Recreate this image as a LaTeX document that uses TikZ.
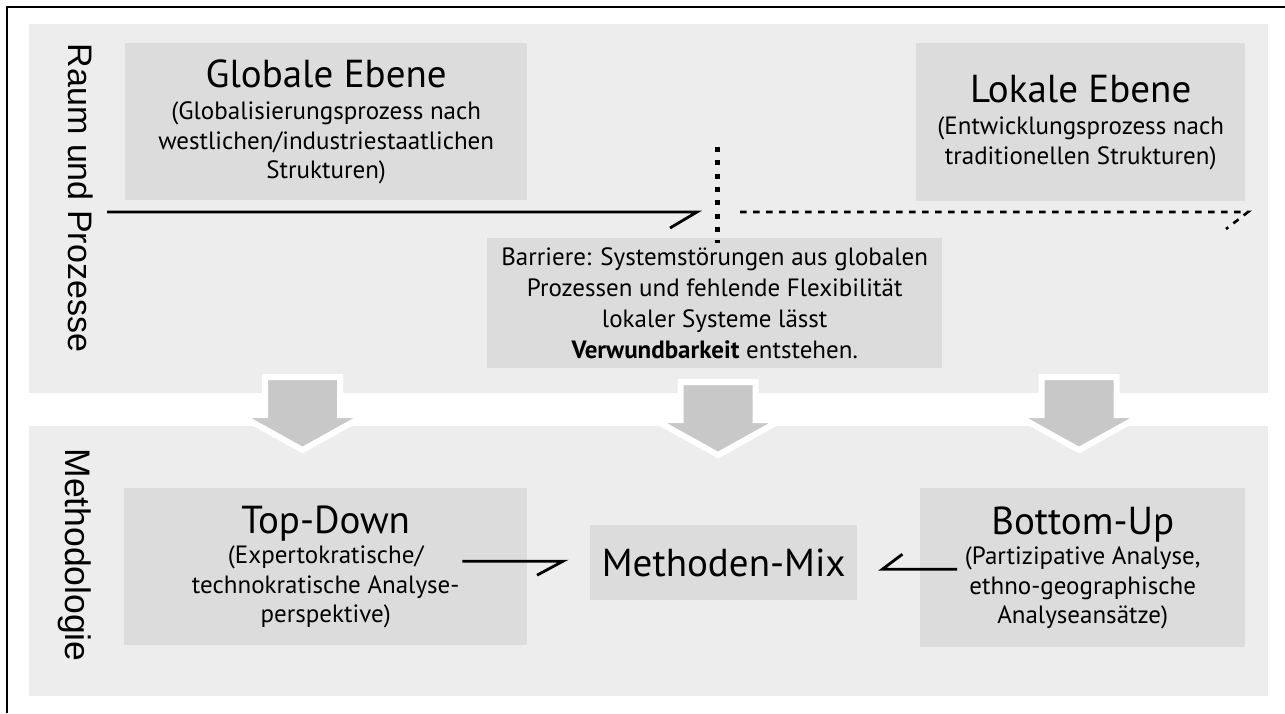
\documentclass[tikz,border=0pt]{standalone}
\usepackage{fontspec}
\setmainfont{PT Sans}
\newfontfamily\sidefont{Liberation Sans}
\usetikzlibrary{calc}
\definecolor{panelgray}{HTML}{EDEDED}
\definecolor{boxgray}{HTML}{DCDCDC}
\definecolor{arrowgray}{HTML}{C8C8C8}
\newcommand\hdsz{\fontsize{39}{44}\selectfont}
\newcommand\sbsz{\fontsize{25}{29.5}\selectfont}
\begin{document}
\begin{tikzpicture}[x=1pt,y=-1pt,
  panel/.style={fill=panelgray, draw=none, inner sep=0pt, anchor=north west},
  infobox/.style={fill=boxgray, draw=none, inner sep=0pt, anchor=north west,
    align=center, font=\sbsz},
  sidelabel/.style={font=\sidefont\fontsize{34}{40}\selectfont, rotate=-90, inner sep=0pt},
  flow/.style={line width=2.8pt, line join=miter},
  dashflow/.style={line width=2.6pt, dash pattern=on 6.5pt off 6.5pt},
  dotline/.style={line width=5pt, dash pattern=on 5pt off 8.3pt},
  blockarrow/.style={fill=arrowgray, draw=white, line width=6pt, line join=miter},
]
\useasboundingbox (0,0) rectangle (1285,713);
\fill[white] (0,0) rectangle (1285,713);
% outer frame (top and left edges)
\draw[line width=1.6pt] (7,713) -- (7,7) -- (1285,7);

% the two horizontal bands
\node[panel, minimum width=1239pt, minimum height=369pt] (upper) at (29,24) {};
\node[panel, minimum width=1239pt, minimum height=270pt] (lower) at (29,426) {};

% band titles
\node[sidelabel] (raum) at (81,198) {Raum und Prozesse};
\node[sidelabel, font=\sidefont\fontsize{35.5}{40}\selectfont] (meth) at (75,555) {Methodologie};

% downward block arrows between the bands
\foreach \cx/\ty in {302.5/377, 718/382, 1079/377}{
  \filldraw[blockarrow] (\cx-37.5,\ty) -- (\cx+37.5,\ty) -- (\cx+37.5,\ty+38)
    -- (\cx+63,\ty+38) -- (\cx,\ty+73) -- (\cx-63,\ty+38) -- (\cx-37.5,\ty+38) -- cycle;
}

% content boxes
\node[infobox, minimum width=402pt, minimum height=157pt] (glob) at (125,43)
  {{\hdsz Globale Ebene}\\[3pt](Globalisierungsprozess nach\\westlichen/industriestaatlichen\\Strukturen)};
\node[infobox, minimum width=329pt, minimum height=158pt] (lok) at (916,43)
  {{\hdsz Lokale Ebene}\\[3pt](Entwicklungsprozess nach\\traditionellen Strukturen)};
\node[infobox, minimum width=455pt, minimum height=130pt, font=\fontsize{25}{31}\selectfont] (bar) at (487,238)
  {Barriere: Systemstörungen aus globalen\\Prozessen und fehlende Flexibilität\\lokaler Systeme lässt\\\textbf{Verwundbarkeit} entstehen.};
\node[infobox, minimum width=403pt, minimum height=157pt] (td) at (124,488)
  {{\hdsz Top-Down}\\[1pt](Expertokratische/\\technokratische Analyse-\\perspektive)};
\node[infobox, minimum width=267pt, minimum height=75pt, font=\hdsz] (mix) at (590,525)
  {Methoden-Mix};
\node[infobox, minimum width=325pt, minimum height=159pt] (bu) at (920,488)
  {{\hdsz Bottom-Up}\\[1pt](Partizipative Analyse,\\ethno-geographische\\Analyseansätze)};

% global process line, barrier, local process line
\coordinate (gstart) at (107,212);
\coordinate (gtip) at (697,212);
\draw[flow] (gstart) -- (gtip) -- ++(-27,16);
\coordinate (btop) at (717,147);
\coordinate (bbot) at (717,243);
\draw[dotline] (btop) -- (bbot);
\coordinate (lstart) at (740,212);
\coordinate (ltip) at (1248,212);
\draw[dashflow] (lstart) -- (ltip) -- ++(-22,17);

% method connectors
\draw[flow] ([xshift=-65pt,yshift=5.5pt]td.east) -- ([xshift=-27pt,yshift=1.5pt]mix.west) -- ++(-26,14);
\draw[flow] ([xshift=37pt,yshift=-1.5pt]bu.west) -- ([xshift=25pt,yshift=-6.5pt]mix.east) -- ++(20,-15);
\end{tikzpicture}
\end{document}
